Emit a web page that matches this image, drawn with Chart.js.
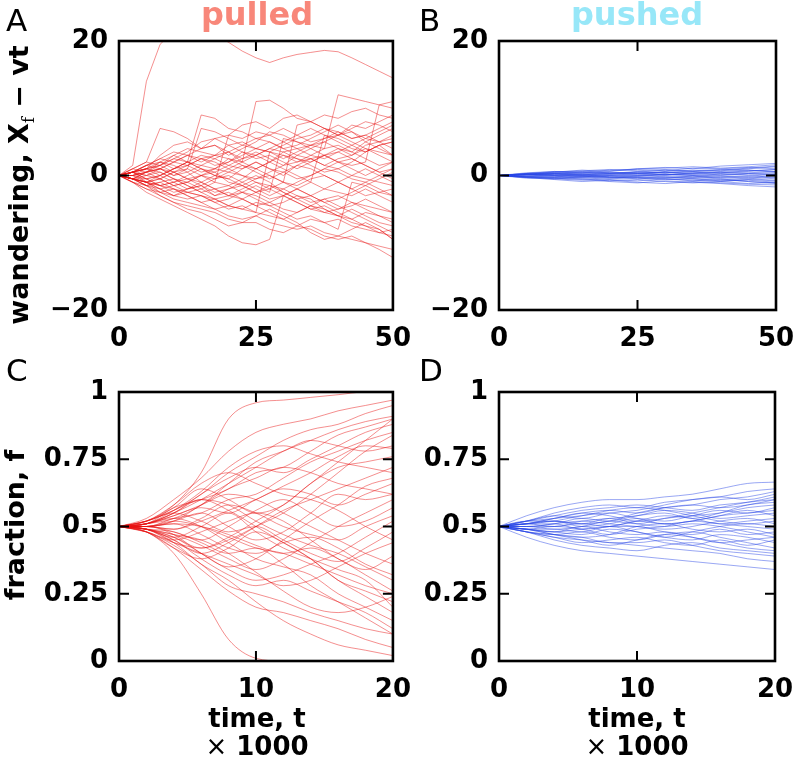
<!DOCTYPE html>
<html><head><meta charset="utf-8">
<script src="https://cdn.jsdelivr.net/npm/chart.js@4.4.1/dist/chart.umd.min.js"></script>
<style>
body{margin:0;background:#fff;width:793px;height:764px;position:relative;overflow:hidden;font-family:"DejaVu Sans",sans-serif;}
canvas{position:absolute;}
.t{position:absolute;white-space:nowrap;}
.letter{font-size:31px;line-height:31px;color:#000;}
.title{font-size:32px;line-height:32px;font-weight:bold;text-align:center;width:300px;}
.xt{font-size:26px;line-height:28px;font-weight:bold;text-align:center;width:300px;color:#000;}
.yl{font-size:27px;line-height:27px;font-weight:bold;color:#000;transform:translate(-50%,-50%) rotate(-90deg);}
</style>
</head><body>
<canvas id="cA" width="425" height="380" style="left:0;top:0"></canvas>
<canvas id="cB" width="420" height="380" style="left:400px;top:0"></canvas>
<canvas id="cC" width="425" height="414" style="left:0;top:350px"></canvas>
<canvas id="cD" width="420" height="414" style="left:400px;top:350px"></canvas>

<div class="t letter" style="left:6px;top:5px">A</div>
<div class="t letter" style="left:419px;top:5px">B</div>
<div class="t letter" style="left:6px;top:355px">C</div>
<div class="t letter" style="left:419px;top:355px">D</div>
<div class="t title" style="left:107px;top:-2px;color:#f8877a">pulled</div>
<div class="t title" style="left:487px;top:-2px;color:#97e7f8">pushed</div>
<div class="t yl" style="left:20px;top:185px">wandering, X<span style="font-family:'DejaVu Serif';font-weight:normal;font-size:16px;position:relative;top:6px">f</span> − vt</div>
<div class="t yl" style="left:14px;top:525px">fraction, f</div>
<div class="t xt" style="left:107px;top:704px">time, t<br><span style="font-weight:normal">×</span> 1000</div>
<div class="t xt" style="left:487px;top:704px">time, t<br><span style="font-weight:normal">×</span> 1000</div>

<script>
// ---- data ----
const timeWander = [0,2.5,5,7.5,10,12.5,15,17.5,20,22.5,25,27.5,30,32.5,35,37.5,40,42.5,45,47.5,50];
const timeWanderPushed = [0,5,10,15,20,25,30,35,40,45,50];
const timeFraction = [0,2,4,6,8,10,12,14,16,18,20];
const wanderTicks = [-20,0,20];
const timeWanderTicks = [0,25,50];
const fractionTicks = [0,0.25,0.5,0.75,1];
const timeFractionTicks = [0,10,20];

const pulledWander = [
 [0,1.5,14,19.5,21.5,22,22,21,19.8,18.5,17.5,16.8,17.5,18,18.3,18.6,18.4,17.5,16.5,15.5,14.5],
 [0,-0.5,0.5,1,2,1.5,2.5,3,3.5,2,11,11.2,10,8.5,8,7,6,6.5,5,4,3],
 [0,0.5,-1,0,1,2,1,0.5,1.5,2.5,3,2,3.5,4,4.5,4,12,11.5,11,10.5,10],
 [0,0.5,1.5,2,1,2,9,8.5,7,6.5,5.5,6,7,6,5,5.5,6.5,5.5,6,7,8],
 [0,1,2,7,6.5,5.5,4,4.5,3,4,5,6.5,6,5,4.5,5,4,3,4.5,5,6],
 [0,-0.5,-1,-1.5,-1,0,1,0,-0.5,1,2,1,0,1.5,2.5,3,2,1.5,2,10.5,11],
 [0,-1,-2,-2.5,-3.5,-4,-4.5,-5,-6,-6.5,-6,-7,-7.5,-8,-7.5,-8.5,-9,-9.5,-10,-11,-12.2],
 [0,-1,-2.5,-3.5,-4.5,-5.5,-6.5,-7.5,-9,-10,-10.3,-9.5,-3,-4,-5,-5.5,-6,-7,-7.5,-8.5,-9],
 [0,-0.5,-1.5,-3,-4,-4.5,-5,-5.5,-6.5,-7,-7,-8,-8.5,-7.5,-8,-9,-9.5,-9,-10,-10.5,-11],
 [0,0.5,1,3,4.5,5,4,5.5,6,7.5,8,7,8.5,9,8,9,8.5,9.5,10,9,8.5],
 [0,0.5,-0.5,0,-1,-2,-1.5,-0.5,0,-1,-2,-3,-2,-1,0,1,0.5,-0.5,-1,-2,-3],
 [0,-0.5,-1,-2,-3,-2.5,-3,-4,-3.5,-2.5,-3,-4,-5,-5.5,-4.5,-5,-6,-5,-6,-7,-7.5],
 [0,1,2,1.5,3,4,3.5,3,4.5,5,4,3.5,4.5,5.5,6,7,6,7.5,7,8,9],
 [0,-0.5,0.5,1,0,0.5,-1,-2,-1.5,-0.5,1,2,1,0,-1,-2,-2.5,-3,-2,-3,-4],
 [0,0,-1,-1.5,-2,-3,-4,-3.5,-4.5,-5,-4,-4.5,-5.5,-6.5,-6,-7,-6.5,-7.5,-8,-8.5,-8],
 [0,0.5,1.5,2.5,2,3,2.5,1.5,2,3.5,3,4,3.5,2.5,2,3,4,3.5,2.5,1.5,2],
 [0,-0.5,-1.5,-1,-0.5,-1.5,-2.5,-2,-3,-3.5,-2.5,-1.5,-2,-3,-4,-3.5,-3,-4,-4.5,-5,-5.5],
 [0,0,0.5,-0.5,-1.5,-1,0,1,0.5,0,-0.5,0.5,1.5,3,2.5,1.5,2.5,3,4,3.5,3],
 [0,-0.5,-1,-2,-1.5,-2.5,-3,-3.5,-4.5,-5,-5.5,3.5,3,2,2.5,1.5,1,0,-0.5,-1,-1.5],
 [0,1,0.5,2,1.5,0.5,1.5,2.5,3.5,4.5,5.5,5,4,4.5,5.5,6.5,7.5,6.5,5.5,5,4],
 [0,-0.5,0,0.5,-0.5,-1,0,0.5,-1,-1.5,-0.5,0,-1,7.5,8,7,6.5,5.5,6,5,5.5],
 [0,-1,-1.5,-1,-2,-2.5,-2,-1,-1.5,-2.5,-3.5,-4.5,-4,-3,-3.5,-5,-6,-6.5,-5.5,-6,-6.5],
 [0,0.5,1,0,1,2,3,2.5,1.5,1,2,1,0.5,-0.5,0,1,2,2.5,1.5,0.5,-0.5],
 [0,-0.5,-1,-2.5,-3,-2,-1.5,-2.5,-2,-1,0,-1,-2.5,-3.5,-3,-2,-1,-2,-3,-2.5,-2],
 [0,0,0.5,1,0.5,-0.5,0,-1,6,5.5,6.5,6,5,6,7,6,5,4,3.5,4.5,3],
 [0,-0.5,-1.5,-2,-3,-3.5,-3,-4,-5,-4.5,-5.5,-6,-6.5,-7.5,-6.5,-7,-8,-1,-1.5,-2.5,-3],
 [0,0.5,0,-0.5,0.5,1,0,-0.5,0.5,1.5,1,0,-1,-1.5,-0.5,0,-1,-2,-1,0,1],
 [0,0,-0.5,0,1,1.5,0.5,1,2.5,2,1,2,3,2.5,1.5,0.5,1,2,3.5,4.5,5],
 [0,-0.5,-0.5,-1.5,-1,-0.5,-1.5,-3,-2.5,-3.5,-4.5,-4,-3,-2,-3,-4,-5,-4.5,-3.5,-4.5,-5.5],
 [0,0.5,1.5,2.5,3.5,3,4,4.5,3.5,2.5,3.5,2.5,1.5,2,3,4,4.5,3.5,5,6,7],
 [0,0.5,1,1.5,0.5,-0.5,-1,0,1,2,3,4,5,4,3,2.5,3.5,4.5,5.5,6.5,7.5],
 [0,-0.5,-1,-0.5,0.5,1.5,2.5,2,1,0,-1,-1.5,-2.5,-3.5,-4.5,-5.5,-5,-4,-5,-6,-7],
 [0,0,1,1.5,2.5,2,1,0,-0.5,-1.5,-2.5,-2,-1,-2,-3,-4,-3.5,-2.5,-1.5,-0.5,0.5],
 [0,-0.5,-1.5,-2.5,-2,-3,-4,-5,-4.5,-3.5,-4.5,-5.5,-6.5,-5.5,-4.5,-3.5,-4.5,-5.5,-6.5,-7.5,-8.5],
 [0,0.5,1.5,1,0,1,7,6.5,5.5,4.5,4,5,4,3,4,5,6,5,4,3,2],
 [0,0.5,0,1,2,3,2,3,2.5,1.5,0.5,-0.5,0.5,1.5,1,0,-1,0,1,0,-1],
 [0,-1,-2,-3,-4,-5,-5.5,-6.5,-7.5,-7,-6,-5,-6,-7,-8.5,-9.5,-9,-8,-7,-8,-9.5],
 [0,0.5,-0.5,-1.5,-2.5,-2,-1,-2,-3,-2.5,-1.5,-2.5,5.5,5,4,3,3.5,2.5,1.5,0.5,1],
 [0,0,0.5,1.5,2.5,3.5,5,5.5,4.5,3.5,2.5,3,2,1,2,3,2,1,0,1,2],
 [0,0.5,1,0.5,-0.5,-1.5,-2.5,-3.5,-3,-2,-1,-2,-3,-4,-5,-4.5,-5.5,-6.5,-7.5,-8,-9.5],
 [0,-0.5,-1,-0.5,-1.5,-1,-2,-3,-2,-1.5,-2.5,-3.5,-3,-2,-1,6,5.5,4.5,3.5,4.5,5],
 [0,0.5,1,2,3,2,1.5,1,2,3,4,3.5,2.5,3.5,4.5,5.5,6,7,8,7.5,6.5]
];

const pushedWander = [
 [0,0.3,0.5,0.8,0.6,1.0,1.2,1.0,1.4,1.6,1.8],
 [0,-0.3,-0.6,-0.9,-0.7,-1.0,-1.2,-0.9,-1.1,-1.3,-1.4],
 [0,0.2,0,0.3,0.5,0.3,0.1,0.4,0.6,0.8,0.5],
 [0,-0.2,-0.1,-0.4,-0.3,0,0.2,0,-0.3,-0.5,-0.2],
 [0,0.4,0.6,0.5,0.8,0.9,0.7,1.1,1.0,1.2,1.0],
 [0,-0.1,0.2,0.1,-0.2,-0.4,-0.6,-0.5,-0.8,-0.7,-1.0],
 [0,0.1,0.3,0.6,0.4,0.2,0.5,0.3,0.1,0.3,0.2],
 [0,-0.4,-0.5,-0.3,-0.6,-0.8,-0.5,-0.7,-0.9,-0.6,-0.8],
 [0,0.2,0.4,0.2,0.0,0.3,0.6,0.8,0.7,1.0,1.3],
 [0,-0.2,-0.4,-0.6,-0.9,-1.1,-0.8,-1.0,-1.2,-1.5,-1.7],
 [0,0.1,-0.1,0.1,0.3,0.6,0.4,0.5,0.3,0.0,-0.3],
 [0,0.3,0.2,0.0,0.1,-0.1,0.1,0.3,0.5,0.4,0.6],
 [0,-0.1,-0.3,-0.2,0,0.2,0,-0.2,0,0.2,0.1],
 [0,0.2,0.5,0.7,0.9,0.7,0.9,0.6,0.8,1.1,1.4],
 [0,-0.3,-0.2,0,-0.2,-0.5,-0.3,-0.1,-0.4,-0.2,-0.5],
 [0,0.1,0.2,0.4,0.3,0.5,0.8,0.6,0.4,0.6,0.9],
 [0,-0.2,-0.5,-0.7,-0.5,-0.3,-0.5,-0.8,-0.6,-0.9,-1.1],
 [0,0.2,0.1,-0.1,0.1,0.0,-0.2,-0.4,-0.2,-0.1,0.2],
 [0,0.3,0.6,0.4,0.7,1.0,1.1,1.3,1.1,1.3,1.6],
 [0,-0.2,-0.3,-0.5,-0.8,-0.6,-0.9,-1.1,-0.9,-1.2,-1.0],
 [0,0.1,0.3,0.2,0.4,0.3,0.5,0.2,0.4,0.7,0.9],
 [0,-0.1,0.0,-0.2,-0.1,-0.3,-0.2,-0.5,-0.7,-0.5,-0.7],
 [0,0.2,0.4,0.5,0.3,0.5,0.4,0.7,0.9,0.8,0.6],
 [0,-0.3,-0.4,-0.2,-0.4,-0.2,-0.4,-0.3,-0.5,-0.9,-1.2],
 [0,0.1,0.0,-0.1,-0.3,-0.1,0.2,0.1,-0.1,-0.3,0.0],
 [0,0.2,0.3,0.1,0.2,0.4,0.2,0.0,0.2,0.3,0.4]
];

const pulledFraction = [
 [.5,.52,.58,.7,.9,.96,.97,.98,.99,1.0,1.0],
 [.5,.48,.4,.25,.08,.01,0,0,0,0,0],
 [.5,.53,.6,.68,.78,.85,.88,.9,.93,.95,.97],
 [.5,.52,.56,.62,.7,.76,.82,.86,.88,.92,.95],
 [.5,.51,.57,.6,.64,.7,.72,.78,.84,.87,.9],
 [.5,.49,.44,.36,.3,.22,.15,.1,.06,.04,.02],
 [.5,.48,.42,.34,.26,.2,.18,.15,.12,.08,.05],
 [.5,.51,.55,.62,.68,.72,.7,.75,.8,.85,.88],
 [.5,.5,.53,.55,.6,.62,.68,.74,.78,.82,.85],
 [.5,.49,.46,.42,.45,.5,.55,.62,.7,.78,.84],
 [.5,.52,.57,.64,.6,.55,.58,.66,.72,.74,.76],
 [.5,.5,.47,.4,.35,.38,.45,.52,.58,.65,.68],
 [.5,.51,.54,.58,.62,.6,.55,.5,.45,.4,.36],
 [.5,.49,.45,.38,.32,.28,.3,.26,.22,.18,.12],
 [.5,.5,.52,.5,.46,.42,.4,.36,.32,.28,.25],
 [.5,.51,.55,.6,.58,.52,.47,.43,.4,.35,.3],
 [.5,.48,.43,.36,.28,.25,.22,.18,.15,.12,.1],
 [.5,.5,.48,.45,.5,.56,.6,.55,.5,.52,.57],
 [.5,.52,.58,.66,.7,.66,.62,.6,.56,.5,.45],
 [.5,.49,.46,.5,.55,.48,.42,.38,.34,.3,.2],
 [.5,.5,.52,.55,.5,.45,.48,.55,.62,.6,.62],
 [.5,.48,.42,.38,.42,.48,.44,.38,.3,.26,.22],
 [.5,.51,.53,.5,.44,.38,.35,.32,.25,.2,.15],
 [.5,.49,.47,.43,.38,.34,.38,.44,.5,.55,.6],
 [.5,.51,.56,.63,.72,.78,.8,.77,.74,.72,.7],
 [.5,.5,.49,.52,.56,.6,.65,.7,.76,.8,.79],
 [.5,.49,.44,.4,.36,.32,.28,.3,.35,.4,.44],
 [.5,.52,.55,.52,.48,.5,.45,.4,.37,.42,.48],
 [.5,.5,.51,.47,.42,.4,.44,.46,.42,.36,.32],
 [.5,.48,.45,.48,.52,.55,.52,.45,.38,.34,.39],
 [.5,.51,.54,.57,.55,.6,.64,.62,.58,.62,.66],
 [.5,.49,.48,.44,.4,.42,.36,.28,.22,.16,.1],
 [.5,.5,.52,.58,.64,.68,.72,.7,.66,.64,.62],
 [.5,.49,.47,.45,.4,.33,.26,.2,.18,.2,.24],
 [.5,.51,.55,.6,.66,.72,.78,.82,.86,.89,.91],
 [.5,.49,.45,.4,.44,.5,.56,.6,.64,.68,.72],
 [.5,.5,.49,.53,.58,.55,.5,.47,.45,.5,.54],
 [.5,.52,.56,.6,.56,.5,.44,.38,.3,.24,.18],
 [.5,.48,.44,.42,.46,.52,.58,.66,.74,.82,.9],
 [.5,.49,.46,.4,.34,.3,.32,.36,.4,.46,.52],
 [.5,.51,.53,.58,.66,.74,.78,.82,.8,.78,.8],
 [.5,.5,.51,.5,.47,.43,.4,.42,.38,.32,.26]
];

const pushedFraction = [
 [.5,.54,.57,.59,.6,.6,.61,.62,.64,.66,.665],
 [.5,.46,.43,.41,.4,.39,.38,.37,.36,.35,.34],
 [.5,.52,.54,.53,.55,.56,.58,.6,.61,.63,.64],
 [.5,.48,.46,.45,.44,.43,.42,.41,.4,.38,.37],
 [.5,.51,.52,.5,.51,.53,.52,.54,.56,.55,.57],
 [.5,.49,.48,.47,.49,.48,.46,.45,.47,.46,.44],
 [.5,.52,.53,.55,.54,.52,.53,.55,.57,.59,.6],
 [.5,.48,.47,.48,.46,.45,.47,.48,.46,.44,.42],
 [.5,.51,.5,.52,.53,.54,.56,.55,.53,.54,.55],
 [.5,.49,.5,.49,.47,.49,.5,.52,.51,.5,.49],
 [.5,.51,.53,.54,.56,.57,.56,.54,.52,.51,.52],
 [.5,.49,.47,.46,.47,.5,.51,.49,.48,.49,.47],
 [.5,.5,.51,.52,.51,.5,.49,.5,.52,.53,.51],
 [.5,.52,.52,.51,.52,.55,.57,.58,.57,.58,.6],
 [.5,.48,.46,.44,.45,.46,.44,.43,.45,.43,.45],
 [.5,.5,.49,.5,.52,.51,.53,.54,.55,.57,.58],
 [.5,.51,.52,.54,.55,.53,.51,.52,.54,.56,.54],
 [.5,.49,.48,.5,.48,.47,.48,.46,.44,.45,.46],
 [.5,.51,.51,.49,.5,.52,.54,.53,.51,.52,.53],
 [.5,.49,.49,.48,.5,.5,.48,.47,.49,.47,.48],
 [.5,.52,.55,.57,.58,.57,.59,.6,.61,.6,.62],
 [.5,.48,.45,.43,.42,.41,.43,.44,.42,.41,.4],
 [.5,.51,.53,.55,.56,.55,.57,.58,.6,.61,.63],
 [.5,.49,.47,.45,.43,.45,.47,.46,.44,.42,.41],
 [.5,.5,.51,.53,.52,.54,.55,.53,.55,.58,.59],
 [.5,.49,.48,.49,.5,.48,.46,.48,.5,.51,.5],
 [.5,.51,.52,.51,.53,.51,.5,.51,.5,.48,.46],
 [.5,.52,.54,.56,.57,.58,.57,.56,.58,.59,.61],
 [.5,.48,.47,.46,.44,.44,.45,.43,.41,.4,.39],
 [.5,.5,.5,.51,.5,.52,.51,.52,.54,.55,.56]
];

// ---- drawing ----
const RED = 'rgba(232,20,20,0.6)';
const BLUE = 'rgba(40,70,230,0.6)';
const tickFont = {family:'DejaVu Sans', size:26, weight:'bold'};

const framePlugin = {
  id:'frame',
  afterDatasetsDraw(chart){
    const {ctx, chartArea:a, scales:{x,y}} = chart;
    ctx.save();
    ctx.strokeStyle = '#000';
    ctx.lineWidth = 2;
    ctx.beginPath();
    x.ticks.forEach(t => {
      if (t.value > x.min && t.value < x.max) {
        const px = x.getPixelForValue(t.value);
        ctx.moveTo(px, a.bottom); ctx.lineTo(px, a.bottom - 10);
        ctx.moveTo(px, a.top); ctx.lineTo(px, a.top + 10);
      }
    });
    y.ticks.forEach(t => {
      if (t.value > y.min && t.value < y.max) {
        const py = y.getPixelForValue(t.value);
        ctx.moveTo(a.left, py); ctx.lineTo(a.left + 10, py);
        ctx.moveTo(a.right, py); ctx.lineTo(a.right - 10, py);
      }
    });
    ctx.stroke();
    ctx.lineWidth = 2.6;
    ctx.strokeRect(a.left, a.top, a.right - a.left, a.bottom - a.top);
    ctx.restore();
  }
};

function fmt(v){ return String(v).replace('-', '\u2212'); }

function makeChart(id, times, series, color, xTicks, yTicks, tension, pad, yW, xH){
  const datasets = series.map(s => ({
    data: s.map((v,i) => ({x: times[i], y: v})),
    borderColor: color,
    borderWidth: 0.8,
    pointRadius: 0,
    fill: false,
    tension: tension,
    cubicInterpolationMode: tension ? 'monotone' : 'default'
  }));
  return new Chart(document.getElementById(id), {
    type: 'line',
    data: {datasets},
    options: {
      responsive: false, animation: false, events: [],
      layout: {padding: pad},
      plugins: {legend: {display:false}, tooltip: {enabled:false}, title:{display:false}},
      scales: {
        x: {
          type:'linear', min: xTicks[0], max: xTicks[xTicks.length-1],
          afterBuildTicks: s => { s.ticks = xTicks.map(v => ({value:v})); },
          ticks: {font: tickFont, color:'#000', padding: 14, maxRotation:0, autoSkip:false, callback: fmt},
          grid: {display:false, drawTicks:false}, border: {display:false},
          afterFit: s => { s.height = xH; }
        },
        y: {
          type:'linear', min: yTicks[0], max: yTicks[yTicks.length-1],
          afterBuildTicks: s => { s.ticks = yTicks.map(v => ({value:v})); },
          ticks: {font: tickFont, color:'#000', padding: 11, autoSkip:false, callback: fmt},
          grid: {display:false, drawTicks:false}, border: {display:false},
          afterFit: s => { s.width = yW; }
        }
      }
    },
    plugins: [framePlugin]
  });
}

makeChart('cA', timeWander, pulledWander, RED, timeWanderTicks, wanderTicks, 0, {top:41, right:30, left:0, bottom:0}, 119, 70);
makeChart('cB', timeWanderPushed, pushedWander, BLUE, timeWanderTicks, wanderTicks, 0, {top:41, right:44, left:0, bottom:0}, 99, 70);
makeChart('cC', timeFraction, pulledFraction, RED, timeFractionTicks, fractionTicks, 0.4, {top:42, right:30, left:0, bottom:0}, 119, 103);
makeChart('cD', timeFraction, pushedFraction, BLUE, timeFractionTicks, fractionTicks, 0.4, {top:42, right:45, left:0, bottom:0}, 99, 103);
</script>
</body></html>
